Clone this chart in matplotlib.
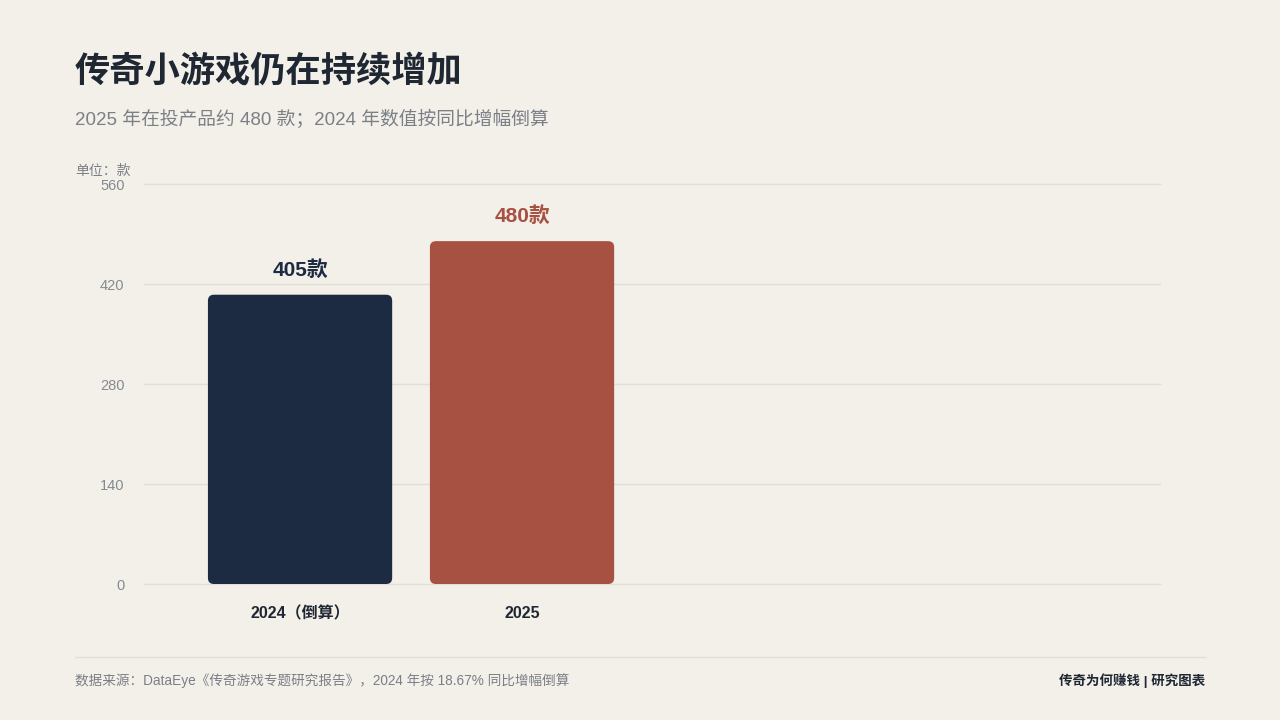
import matplotlib.pyplot as plt
from matplotlib.patches import FancyBboxPatch
from matplotlib.lines import Line2D

plt.rcParams['font.family'] = ['Liberation Sans', 'Noto Sans CJK SC', 'DejaVu Sans']

categories = ['2024（倒算）', '2025']
values = [405, 480]
value_labels = ['405款', '480款']
yticks = [0, 140, 280, 420, 560]

bg = '#f3f0e9'
colors = ['#1c2a42', '#a65142']
dark = '#1f2733'
gray = '#7b7f86'
grid = '#e2ded6'

fig = plt.figure(figsize=(12.8, 7.2), dpi=100, facecolor=bg)
ax = fig.add_axes([144/1280, 1-584/720, (1160-144)/1280, 400/720])
ax.set_facecolor(bg)

x = list(range(len(categories)))
bars = ax.bar(x, values, width=0.83, color=colors)
ax.set_xlim(-0.703, 3.874)
ax.set_ylim(0, 560)

# swap plain bars for rounded ones of the same size
rx = 6/222
ry = 6/(400/560)
for b, c in zip(bars, colors):
    b.set_visible(False)
    p = FancyBboxPatch((b.get_x(), b.get_y()), b.get_width(), b.get_height(),
                       boxstyle=f'round,pad=0,rounding_size={rx}',
                       mutation_aspect=ry/rx, facecolor=c, edgecolor='none', zorder=3)
    ax.add_patch(p)

for xi, v, lab, c in zip(x, values, value_labels, colors):
    ax.annotate(lab, (xi, v), xytext=(0, 18), textcoords='offset points',
                ha='center', va='center', fontsize=15, fontweight='bold', color=c)

ax.set_yticks(yticks)
ax.set_yticklabels([str(t) for t in yticks])
ax.set_xticks(x)
ax.set_xticklabels(categories, fontsize=11.5, fontweight='bold', color=dark)
ax.tick_params(axis='y', length=0, pad=14, labelsize=10.5, labelcolor='#858a90')
ax.tick_params(axis='x', length=0, pad=16)
ax.grid(axis='y', color=grid, linewidth=1, zorder=0)
for gl in ax.get_ygridlines():
    gl.set_clip_on(False)
ax.set_axisbelow(True)
for s in ax.spines.values():
    s.set_visible(False)

fig.text(75/1280, 1-72/720, '传奇小游戏仍在持续增加', fontsize=25.4, fontweight='bold',
         color=dark, va='center', ha='left')
fig.text(75/1280, 1-119/720, '2025 年在投产品约 480 款；2024 年数值按同比增幅倒算',
         fontsize=13.5, color=gray, va='center', ha='left')
fig.text(75/1280, 1-171/720, '单位：款', fontsize=10, color=gray, va='center', ha='left')

fig.add_artist(Line2D([75/1280, 1205/1280], [1-657/720, 1-657/720],
                      color=grid, linewidth=1))
fig.text(75/1280, 1-681/720,
         '数据来源：DataEye《传奇游戏专题研究报告》，2024 年按 18.67% 同比增幅倒算',
         fontsize=9.8, color=gray, va='center', ha='left')
fig.text(1205/1280, 1-681/720, '传奇为何赚钱 | 研究图表', fontsize=9.7,
         fontweight='bold', color=dark, va='center', ha='right')

fig.savefig('out.png', dpi=100, facecolor=bg)
